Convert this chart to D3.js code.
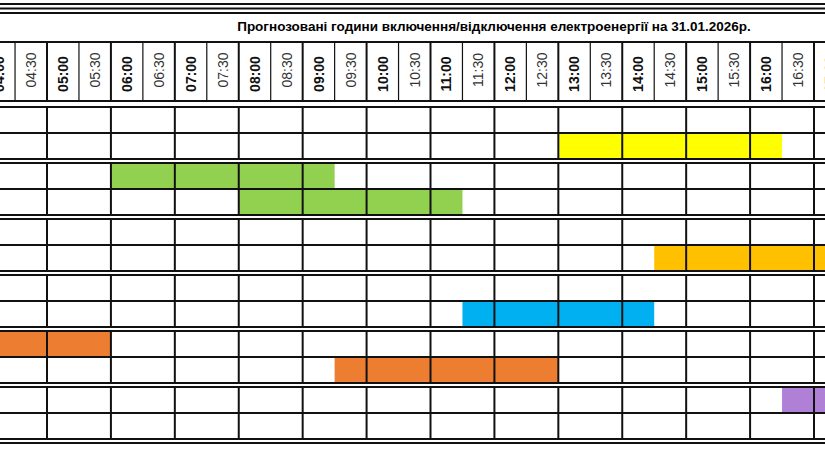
<!DOCTYPE html>
<html><head><meta charset="utf-8">
<script src="https://cdn.jsdelivr.net/npm/d3@7"></script>
<style>body{margin:0;background:#fff}</style>
</head><body>
<script>
// data
const title = "Прогнозовані години включення/відключення електроенергії на 31.01.2026р.";
const slotLabels = ["04:00","04:30","05:00","05:30","06:00","06:30","07:00","07:30","08:00","08:30","09:00","09:30","10:00","10:30","11:00","11:30","12:00","12:30","13:00","13:30","14:00","14:30","15:00","15:30","16:00","16:30","17:00"];
const rowCount = 12;
// outages: row, start hour, end hour, colour
const outRow   = [1, 2, 3, 5, 7, 8, 9, 10];
const outStart = [13, 6, 8, 14.5, 11.5, 3.5, 9.5, 16.5];
const outEnd   = [16.5, 9.5, 11.5, 18, 14.5, 6, 13, 18];
const outColor = ["#ffff00", "#92d050", "#92d050", "#ffc000", "#00b0f0", "#ed7d31", "#ed7d31", "#b07fd6"];

const W = 825, H = 450;
const svg = d3.select("body").append("svg").attr("width", W).attr("height", H);

const x = d3.scaleLinear().domain([5, 17]).range([47, 814]);
const rowTop = i => 107 + Math.floor(i / 2) * 56 + (i % 2) * 26;

// bars
outRow.forEach((r, i) => {
  svg.append("rect")
    .attr("x", x(outStart[i])).attr("y", rowTop(r))
    .attr("width", x(outEnd[i]) - x(outStart[i])).attr("height", 26)
    .attr("fill", outColor[i]);
});

const line = (x1, y1, x2, y2, w) => svg.append("line")
  .attr("x1", x1).attr("y1", y1).attr("x2", x2).attr("y2", y2)
  .attr("stroke", "#111").attr("stroke-width", w || 2);

// top frame
[4, 8.5, 13].forEach(y => line(0, y, W, y, 2));
line(0, 42, W, 42, 2);
line(0, 101, W, 101, 2);

// title
svg.append("text").attr("x", 494).attr("y", 31).attr("text-anchor", "middle")
  .style("font", "bold 13.5px 'Liberation Sans', Arial, sans-serif").text(title);

// header labels and vertical lines
slotLabels.forEach((lab, i) => {
  const h = 4 + i / 2;
  const full = i % 2 === 0;
  line(x(h), 42, x(h), 101, full ? 2 : 1.2);
  svg.append("text")
    .attr("transform", `translate(${x(h + 0.25) + 5},${full ? 74 : 70}) rotate(-90)`)
    .attr("text-anchor", "middle")
    .attr("fill", full ? "#111" : "#333")
    .style("font", `${full ? "bold " : ""}14px 'Liberation Sans', Arial, sans-serif`)
    .text(lab);
});

// body grid
for (let g = 0; g < 6; g++) {
  const t = 107 + g * 56;
  line(0, t, W, t, 2);
  line(0, t + 26, W, t + 26, 2);
  line(0, t + 52, W, t + 52, 2);
  d3.range(4, 18).forEach(h => line(x(h), t, x(h), t + 52, 2));
}
line(0, 443, W, 443, 2);
</script>
</body></html>
